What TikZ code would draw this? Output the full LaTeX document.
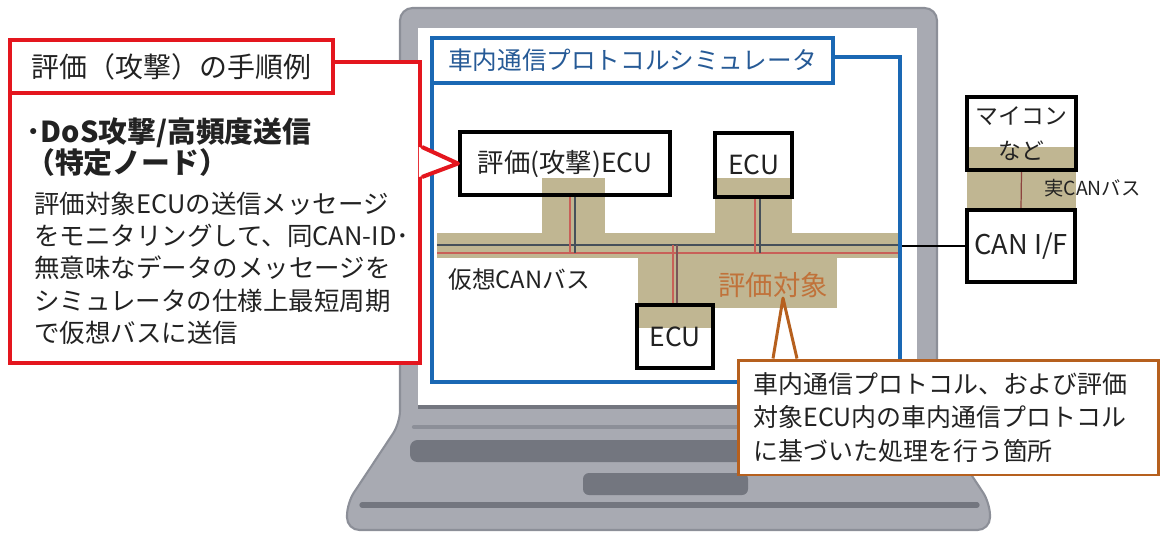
\documentclass[tikz,border=0pt]{standalone}
\usepackage{fontspec}
\setmainfont{Noto Sans CJK JP}
\usetikzlibrary{positioning}

\definecolor{lidgray}{RGB}{168,170,178}
\definecolor{lidedge}{RGB}{140,143,152}
\definecolor{keygray}{RGB}{115,118,127}
\definecolor{simblue}{RGB}{26,104,180}
\definecolor{simtext}{RGB}{38,90,150}
\definecolor{stepred}{RGB}{228,22,30}
\definecolor{notebrown}{RGB}{182,96,30}
\definecolor{bustan}{RGB}{192,182,146}
\definecolor{canh}{RGB}{70,80,90}
\definecolor{canl}{RGB}{200,96,88}
\definecolor{tgtorange}{RGB}{192,114,58}
\definecolor{ink}{RGB}{34,34,34}

\begin{document}
\begin{tikzpicture}[
x=0.02cm, y=-0.02cm,
ecu/.style={
	draw=black, line width=2.4pt,
	inner sep=0pt, text=ink,
	font=\fontsize{15pt}{17pt}\selectfont
},
simbox/.style={draw=simblue, line width=2pt, inner sep=0pt},
stepbox/.style={draw=stepred, fill=white, line width=2.3pt, inner sep=0pt, text=ink},
txt/.style={inner sep=0pt, text=ink, align=left},
wire/.style={line width=0.7pt}
]
\useasboundingbox (0,0) rectangle (1162,532);

% laptop
\filldraw[fill=lidgray, draw=lidedge, line width=1.2pt, rounded corners=0.25cm]
	(400,8) -- (937,8) -- (937,423) -- (990,503) -- (990,530)
	-- (347,530) -- (347,503) -- (400,423) -- cycle;
\fill[white] (418,28) rectangle (917,405);
\draw[keygray, line width=2.5pt] (418,407) -- (917,407);
\draw[lidedge, line width=2.5pt, line cap=round] (414,427) -- (924,427);
\fill[keygray, rounded corners=0.15cm] (410,440) rectangle (928,462);
\fill[keygray, rounded corners=0.12cm] (583,473) rectangle (748,495);
\draw[keygray, line width=3pt, line cap=round] (362,505) -- (977,505);

% bus and target area
\fill[bustan] (437,233) rectangle (900,258);
\fill[bustan] (542,178) rectangle (605,233);
\fill[bustan] (715,178) rectangle (792,233);
\fill[bustan] (638,258) rectangle (837,308);
\fill[bustan] (637,305) rectangle (713,328);
\fill[bustan] (967,147) rectangle (1076,210);

\coordinate (hW) at (437,245);
\coordinate (hE) at (900,245);
\coordinate (lW) at (437,253);
\coordinate (lE) at (900,253);
\draw[wire, canh] (hW) -- (hE);
\draw[wire, canl] (lW) -- (lE);

% simulator frame
\node[simbox, minimum width=9.36cm, minimum height=6.5cm] (sim) at (666,219.5) {};
\node[simbox, fill=white, minimum width=8.02cm, minimum height=0.9cm,
	text=simtext, font=\fontsize{14pt}{16pt}\selectfont] (simttl) at (632.5,60.5)
	{車内通信プロトコルシミュレータ};

% ECUs
\node[ecu, minimum width=4.2cm, minimum height=1.26cm] (atk) at (565,163.5) {評価(攻撃)ECU};
\node[ecu, minimum width=1.54cm, minimum height=1.28cm] (ecuA) at (753.5,165) {ECU};
\node[ecu, minimum width=1.52cm, minimum height=1.26cm] (ecuB) at (675,336.5) {ECU};

\foreach \n/\dx in {atk/0.1cm, ecuA/0.03cm}
{
	\coordinate (dl) at ([xshift=\dx]\n.south);
	\coordinate (dh) at ([xshift=\dx+0.1cm]\n.south);
	\draw[wire, canl] (dl) -- (dl |- lW);
	\draw[wire, canh] (dh) -- (dh |- lW);
}
\coordinate (bl) at ([xshift=-0.04cm]ecuB.north);
\coordinate (bh) at ([xshift=0.04cm]ecuB.north);
\draw[wire, canl] (bl |- hW) -- (bl);
\draw[wire, canh!60!canl] (bh |- hW) -- (bh);

\node[txt, anchor=west, font=\fontsize{13.5pt}{15pt}\selectfont] (vbus) at (448,280) {仮想CANバス};
\node[inner sep=0pt, text=tgtorange, font=\fontsize{15.6pt}{17pt}\selectfont] (tgt) at (773,285) {評価対象};

% attack procedure
\node[stepbox, minimum width=8.2cm, minimum height=6.02cm] (steps) at (215,212.5) {};
\node[stepbox, minimum width=6.46cm, minimum height=1.06cm,
	font=\fontsize{15.9pt}{17pt}\selectfont] (stepttl) at (171.5,66.5) {評価（攻撃）の手順例};
\node[txt, anchor=west, font=\bfseries\fontsize{16.4pt}{17.6pt}\selectfont] (atkhead) at (26,147.5)
	{･DoS攻撃/高頻度送信\\（特定ノード）};
\node[txt, anchor=west, font=\fontsize{14.5pt}{18.4pt}\selectfont] (atkbody) at (34,268)
	{評価対象ECUの送信メッセージ\\をモニタリングして、同CAN-ID･\\無意味なデータのメッセージを\\シミュレータの仕様上最短周期\\で仮想バスに送信};

\path (steps.east |- atk.west) coordinate (sp);
\fill[white] ([xshift=-0.06cm, yshift=0.33cm]sp) -- (atk.west) -- ([xshift=-0.06cm, yshift=-0.27cm]sp) -- cycle;
\draw[stepred, line width=2.3pt, line join=round] ([yshift=0.33cm]sp) -- (atk.west) -- ([yshift=-0.27cm]sp);

% note on the target
\node[draw=notebrown, fill=white, line width=1.7pt, text=ink, align=left,
	text width=7.8cm, inner xsep=0.3cm, minimum height=2.3cm,
	font=\fontsize{14.2pt}{19pt}\selectfont] (note) at (948.5,417.5)
	{車内通信プロトコル、および評価\\対象ECU内の車内通信プロトコル\\に基づいた処理を行う箇所};
\coordinate (ntip) at ([xshift=0.2cm]tgt.south);
\path (ntip |- note.north) coordinate (nb);
\draw[notebrown, line width=1.7pt, line join=round] ([xshift=-0.2cm]nb) -- (ntip) -- ([xshift=0.28cm]nb);

% real bus side
\node[ecu, minimum width=2.18cm, minimum height=1.46cm, align=center,
	font=\fontsize{13pt}{19.8pt}\selectfont] (mcu) at (1021.5,133.5) {マイコン\\など};
\node[ecu, minimum width=2.16cm, minimum height=1.44cm,
	font=\fontsize{15.5pt}{17pt}\selectfont] (canif) at (1021,246) {CAN I/F};
\draw[wire, canl!70!black] (mcu.south) -- (canif.north);
\draw[black, line width=1.6pt] (canif.west) -- (canif.west -| sim.east);
\node[txt, anchor=west, font=\fontsize{11pt}{13pt}\selectfont] (realbus) at (1044,188) {実CANバス};
\end{tikzpicture}
\end{document}
